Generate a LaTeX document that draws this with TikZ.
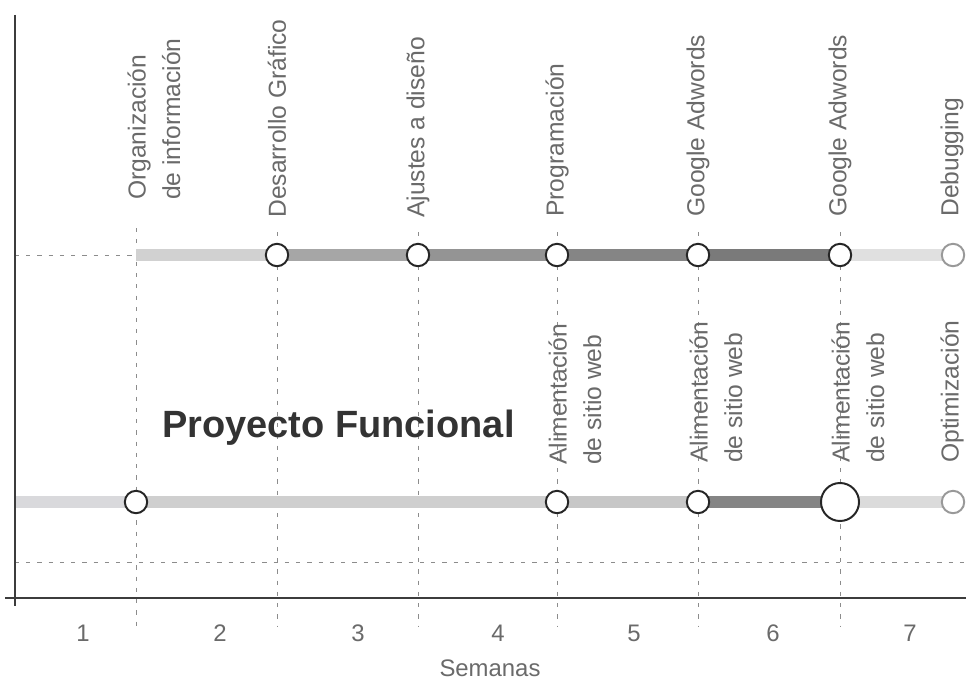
\documentclass[tikz,border=0pt]{standalone}
\usepackage{fontspec}
\setmainfont{Liberation Sans}
\usetikzlibrary{backgrounds}
\usetikzlibrary{positioning}
\definecolor{textgray}{HTML}{6A6A6A}
\definecolor{linegray}{HTML}{3C3C3C}
\tikzset{
  milestone/.style = {circle,
                      draw = black!85,
                      fill = white,
                      line width = 1.4pt,
                      minimum size = 0.56cm,
                      inner sep = 0pt},
  big-milestone/.style = {milestone,
                          minimum size = 0.95cm},
  faint-milestone/.style = {milestone,
                            draw = black!40},
  task/.style = {rotate = 90,
                 anchor = west,
                 inner sep = 0pt,
                 align = left,
                 text = textgray,
                 font = \fontsize{17.5}{24.5}\selectfont},
  week/.style = {text = textgray,
                 font = \fontsize{17}{20}\selectfont},
  bar/.style = {line width = 0.3cm},
  guide/.style = {black!45,
                  line width = 0.6pt,
                  dash pattern = on 3pt off 5pt}
}

\begin{document}
\begin{tikzpicture}[x = 0.025cm, y = -0.025cm]

\useasboundingbox (0,0) rectangle (966,683);

% axes
\coordinate (axis-top) at (15,15);
\coordinate (axis-bottom) at (15,606);
\coordinate (axis-left) at (5,598);
\coordinate (axis-right) at (966,598);
\draw[linegray, line width = 0.8pt] (axis-top) -- (axis-bottom);
\draw[linegray, line width = 0.8pt] (axis-left) -- (axis-right);

% top timeline
\coordinate (t1) at (136,255);
\node[milestone](t2) at (277,255){};
\node[milestone](t3) at (418,255){};
\node[milestone](t4) at (557,255){};
\node[milestone](t5) at (698,255){};
\node[milestone](t6) at (840,255){};
\node[faint-milestone](t7) at (953,255){};

% bottom timeline
\coordinate (b0) at (15,502);
\node[milestone](b1) at (136,502){};
\node[milestone](b4) at (557,502){};
\node[milestone](b5) at (698,502){};
\node[big-milestone](b6) at (840,502){};
\node[faint-milestone](b7) at (953,502){};

\begin{scope}[on background layer]
  \fill[white] (0,0) rectangle (966,683);
  \draw[guide] (15,562) -- (966,562);
  \draw[guide] (axis-top |- t1) -- (t1);
  \draw[guide] (136,228) -- (136,626);
  \draw[guide] (277,232) -- (277,626);
  \draw[guide] (418,232) -- (418,626);
  \draw[guide] (557,232) -- (557,626);
  \draw[guide] (698,232) -- (698,626);
  \draw[guide] (840,232) -- (840,626);

  \draw[bar, draw = black!18] (t1) -- (t2.center);
  \draw[bar, draw = black!35] (t2.center) -- (t3.center);
  \draw[bar, draw = black!42] (t3.center) -- (t4.center);
  \draw[bar, draw = black!48] (t4.center) -- (t5.center);
  \draw[bar, draw = black!52] (t5.center) -- (t6.center);
  \draw[bar, draw = black!12] (t6.center) -- (t7.center);

  \draw[bar, draw = blue!8!black!15] (b0) -- (b1.center);
  \draw[bar, draw = black!19] (b1.center) -- (b4.center);
  \draw[bar, draw = black!22] (b4.center) -- (b5.center);
  \draw[bar, draw = black!48] (b5.center) -- (b6.center);
  \draw[bar, draw = black!14] (b6.center) -- (b7.center);
\end{scope}

% tasks above the top timeline
\node[task](lab-org) at (154,200){Organización\\de información};
\node[task](lab-desarrollo) at (277,218){Desarrollo Gráfico};
\node[task](lab-ajustes) at (418,218){Ajustes a diseño};
\node[task](lab-programacion) at (557,217){Programación};
\node[task](lab-adwords-1) at (698,217){Google Adwords};
\node[task](lab-adwords-2) at (840,217){Google Adwords};
\node[task](lab-debugging) at (952,217){Debugging};

% tasks above the bottom timeline
\node[task](lab-alim-1) at (575,465){Alimentación\\de sitio web};
\node[task](lab-alim-2) at (716,463){Alimentación\\de sitio web};
\node[task](lab-alim-3) at (858,463){Alimentación\\de sitio web};
\node[task](lab-optim) at (952,463){Optimización};

\node[anchor = base west, inner sep = 0pt, text = black!80,
      font = \fontsize{27}{30}\bfseries](title) at (162,437){Proyecto Funcional};

% weeks
\node[week](w1) at (83,633){1};
\node[week](w2) at (220,633){2};
\node[week](w3) at (358,633){3};
\node[week](w4) at (498,633){4};
\node[week](w5) at (634,633){5};
\node[week](w6) at (773,633){6};
\node[week](w7) at (910,633){7};
\node[week](semanas) at (490,668){Semanas};

\end{tikzpicture}
\end{document}
